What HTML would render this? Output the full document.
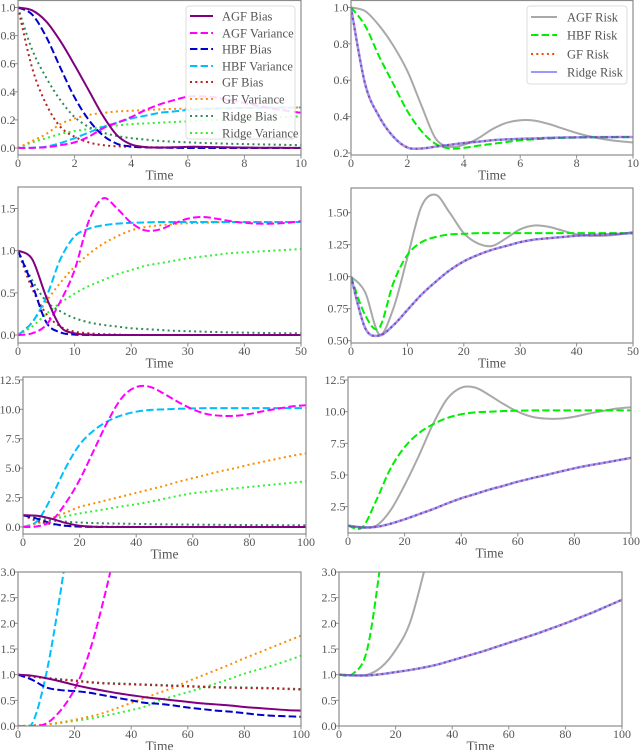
<!DOCTYPE html>
<html><head><meta charset="utf-8"><style>
html,body{margin:0;padding:0;background:#fff;}
svg{display:block;font-family:"Liberation Serif",serif;}
</style></head><body>
<svg id="fig" width="640" height="750" viewBox="0 0 640 750" xmlns="http://www.w3.org/2000/svg"></svg>
<script>
// ---- data ----
const t1 = [0,0.5,1,1.5,2,2.5,3,3.5,4,4.5,5,5.5,6,6.5,7,7.5,8,8.5,9,9.5,10];
const p1AgfBias = [1,0.98,0.9,0.76,0.59,0.41,0.23,0.09,0.025,0.006,0.003,0.005,0.008,0.008,0.006,0.004,0.003,0.002,0.002,0.001,0.001];
const p1AgfVar  = [0,0.001,0.005,0.02,0.04,0.08,0.14,0.18,0.22,0.27,0.31,0.34,0.365,0.367,0.36,0.34,0.32,0.3,0.28,0.265,0.25];
const p1HbfBias = [1,0.95,0.79,0.57,0.36,0.2,0.09,0.03,0.01,0.004,0.002,0.001,0,0,0,0,0,0,0,0,0];
const p1HbfVar  = [0,0.002,0.01,0.035,0.07,0.11,0.15,0.18,0.21,0.23,0.25,0.26,0.27,0.275,0.28,0.283,0.285,0.286,0.287,0.287,0.288];
const p1GfBias  = [1,0.57,0.31,0.15,0.08,0.04,0.02,0.012,0.008,0.006,0.005,0.004,0.003,0.003,0.002,0.002,0.002,0.001,0.001,0.001,0.001];
const p1GfVar   = [0,0.05,0.1,0.17,0.21,0.235,0.25,0.26,0.265,0.27,0.275,0.278,0.28,0.282,0.284,0.285,0.286,0.287,0.287,0.288,0.288];
const p1RidgeBias = [1,0.7,0.5,0.34,0.22,0.15,0.11,0.085,0.07,0.06,0.05,0.045,0.04,0.036,0.033,0.03,0.028,0.026,0.024,0.022,0.02];
const p1RidgeVar  = [0,0.04,0.07,0.1,0.12,0.135,0.15,0.16,0.17,0.175,0.18,0.185,0.19,0.195,0.2,0.205,0.21,0.214,0.218,0.222,0.225];
const p1AgfRisk = [1,0.98,0.9,0.79,0.65,0.46,0.28,0.235,0.245,0.28,0.33,0.365,0.38,0.378,0.36,0.335,0.31,0.29,0.275,0.265,0.258];
const p1HbfRisk = [1,0.9,0.73,0.58,0.43,0.32,0.25,0.225,0.228,0.24,0.25,0.26,0.27,0.275,0.28,0.283,0.285,0.286,0.287,0.287,0.288];
const p1GfRisk  = [1,0.58,0.4,0.29,0.23,0.225,0.235,0.245,0.255,0.262,0.27,0.275,0.278,0.28,0.283,0.285,0.286,0.287,0.287,0.288,0.288];
const p1RidgeRisk = p1GfRisk.slice();

const t2 = [0,2.5,5,7.5,10,12.5,15,17.5,20,22.5,25,27.5,30,32.5,35,37.5,40,42.5,45,47.5,50];
const p2AgfBias = [1,0.9,0.45,0.1,0.02,0.005,0,0,0,0,0,0,0,0,0,0,0,0,0,0,0];
const p2AgfVar  = [0,0.02,0.12,0.4,0.77,1.35,1.62,1.5,1.33,1.24,1.25,1.32,1.38,1.4,1.38,1.35,1.33,1.32,1.32,1.33,1.35];
const p2HbfBias = [1,0.6,0.15,0.03,0.005,0,0,0,0,0,0,0,0,0,0,0,0,0,0,0,0];
const p2HbfVar  = [0,0.15,0.45,0.9,1.17,1.26,1.3,1.32,1.33,1.335,1.34,1.34,1.34,1.34,1.34,1.34,1.34,1.34,1.34,1.34,1.34];
const p2GfBias  = [1,0.55,0.25,0.1,0.04,0.02,0.01,0.005,0,0,0,0,0,0,0,0,0,0,0,0,0];
const p2GfVar   = [0,0.15,0.4,0.62,0.81,0.96,1.08,1.17,1.24,1.28,1.3,1.315,1.325,1.33,1.335,1.335,1.337,1.338,1.34,1.34,1.34];
const p2RidgeBias = [1,0.65,0.4,0.28,0.2,0.15,0.12,0.1,0.08,0.07,0.06,0.05,0.045,0.04,0.035,0.03,0.028,0.025,0.022,0.02,0.02];
const p2RidgeVar  = [0,0.1,0.25,0.38,0.49,0.58,0.65,0.72,0.77,0.82,0.85,0.88,0.91,0.93,0.95,0.97,0.98,0.99,1.0,1.01,1.02];
const p2AgfRisk = [1,0.88,0.55,0.75,1.15,1.55,1.64,1.5,1.34,1.26,1.24,1.3,1.37,1.4,1.39,1.36,1.33,1.32,1.32,1.33,1.35];
const p2HbfRisk = [1,0.7,0.6,0.95,1.17,1.27,1.31,1.33,1.335,1.34,1.34,1.34,1.34,1.34,1.34,1.34,1.34,1.34,1.34,1.34,1.34];
const p2GfRisk  = [1,0.6,0.54,0.62,0.74,0.86,0.96,1.05,1.12,1.17,1.21,1.24,1.27,1.29,1.3,1.31,1.32,1.325,1.33,1.335,1.34];
const p2RidgeRisk = p2GfRisk.slice();

const t3 = [0,5,10,15,20,25,30,35,40,45,50,55,60,65,70,75,80,85,90,95,100];
const p3AgfBias = [1,0.95,0.7,0.35,0.1,0.02,0,0,0,0,0,0,0,0,0,0,0,0,0,0,0];
const p3AgfVar  = [0,0.05,0.5,2,4,6.5,9,11,11.9,11.9,11.3,10.6,10,9.6,9.45,9.45,9.6,9.85,10.05,10.25,10.35];
const p3HbfBias = [1,0.7,0.3,0.1,0.03,0,0,0,0,0,0,0,0,0,0,0,0,0,0,0,0];
const p3HbfVar  = [0,0.5,2.5,5,7,8.2,9,9.5,9.8,9.95,10,10.05,10.08,10.1,10.1,10.1,10.1,10.1,10.1,10.1,10.1];
const p3GfBias  = [1,0.5,0.25,0.1,0.05,0.03,0.02,0.015,0.01,0.01,0.01,0.01,0.01,0.01,0.01,0.01,0.01,0.01,0.01,0.01,0.01];
const p3GfVar   = [0,0.3,0.75,1.2,1.7,2.0,2.3,2.6,2.9,3.2,3.5,3.85,4.15,4.45,4.75,5.0,5.3,5.55,5.8,6.05,6.26];
const p3RidgeBias = [1,0.75,0.55,0.45,0.38,0.33,0.3,0.28,0.26,0.24,0.22,0.21,0.2,0.19,0.18,0.17,0.16,0.155,0.15,0.145,0.14];
const p3RidgeVar  = [0,0.3,0.65,0.9,1.15,1.35,1.55,1.75,1.93,2.15,2.4,2.65,2.87,3.0,3.15,3.28,3.4,3.52,3.64,3.76,3.88];
const p3AgfRisk = [1,0.9,1.0,2.2,4.2,6.5,9,11,11.9,11.9,11.3,10.6,10,9.6,9.45,9.45,9.6,9.85,10.05,10.25,10.35];
const p3HbfRisk = [1,0.85,3,5.5,7.2,8.3,9,9.5,9.8,9.95,10,10.05,10.08,10.1,10.1,10.1,10.1,10.1,10.1,10.1,10.1];
const p3GfRisk  = [1,0.85,0.9,1.15,1.5,1.9,2.3,2.75,3.16,3.5,3.85,4.15,4.47,4.75,5.0,5.27,5.53,5.75,5.95,6.15,6.35];
const p3RidgeRisk = p3GfRisk.slice();

const t4 = [0,5,10,15,20,25,30,35,40,45,50,55,60,65,70,75,80,85,90,95,100];
const p4AgfBias = [1,0.98,0.93,0.87,0.8,0.74,0.69,0.64,0.6,0.56,0.53,0.5,0.47,0.44,0.42,0.4,0.37,0.35,0.33,0.31,0.3];
const p4AgfVar  = [0,0,0.05,0.3,0.72,1.4,2.4,3.6,5,6.5,8,9.5,11,12.5,14,15.5,17,18.5,20,21.5,23];
const p4HbfBias = [1,0.9,0.75,0.7,0.68,0.65,0.6,0.55,0.5,0.45,0.43,0.4,0.36,0.33,0.3,0.28,0.25,0.22,0.2,0.19,0.18];
const p4HbfVar  = [0,0.05,1.02,2.6,4.5,6.5,8.5,10.5,12.5,14.5,16.5,18.5,20.5,22.5,24.5,26.5,28.5,30.5,32.5,34.5,36.5];
const p4GfBias  = [1,0.96,0.93,0.9,0.88,0.85,0.83,0.82,0.81,0.8,0.79,0.78,0.77,0.76,0.75,0.745,0.74,0.735,0.73,0.72,0.71];
const p4GfVar   = [0,0.01,0.03,0.07,0.12,0.18,0.25,0.35,0.45,0.55,0.65,0.75,0.87,0.98,1.09,1.2,1.32,1.43,1.54,1.65,1.76];
const p4RidgeBias = [1,0.97,0.94,0.91,0.89,0.86,0.84,0.83,0.82,0.81,0.8,0.79,0.78,0.77,0.76,0.755,0.75,0.745,0.74,0.73,0.72];
const p4RidgeVar  = [0,0.01,0.03,0.06,0.1,0.14,0.19,0.25,0.31,0.38,0.5,0.58,0.66,0.74,0.83,0.92,1.02,1.1,1.18,1.27,1.37];
const p4AgfRisk = [1,0.99,1.0,1.15,1.48,2.0,3.0,4.2,5.5,7,8.5,10,11.5,13,14.5,16,17.5,19,20.5,22,23.5];
const p4HbfRisk = [1,1.02,1.5,3.3,5.5,8,10.5,13,15.5,18,20.5,23,25.5,28,30.5,33,35.5,38,40.5,43,45.5];
const p4GfRisk  = [1,0.985,0.985,1.01,1.05,1.09,1.14,1.2,1.28,1.36,1.44,1.53,1.62,1.71,1.8,1.9,2.0,2.11,2.22,2.34,2.46];
const p4RidgeRisk = p4GfRisk.slice();

const ticksX10 = [0,2,4,6,8,10];
const ticksX50 = [0,10,20,30,40,50];
const ticksX100 = [0,20,40,60,80,100];
const ticksY1L = ["0.0","0.2","0.4","0.6","0.8","1.0"];
const ticksY1R = ["0.2","0.4","0.6","0.8","1.0"];
const ticksY2L = ["0.0","0.5","1.0","1.5"];
const ticksY2R = ["0.50","0.75","1.00","1.25","1.50"];
const ticksY3L = ["0.0","2.5","5.0","7.5","10.0","12.5"];
const ticksY3R = ["2.5","5.0","7.5","10.0","12.5"];
const ticksY4 = ["0.0","0.5","1.0","1.5","2.0","2.5","3.0"];

// ---- styles ----
const ST = {
  agfBias:{c:"#800080",d:null,o:1},
  agfVar:{c:"#ff00ff",d:"7.4,3.2",o:1},
  hbfBias:{c:"#0000cd",d:"7.4,3.2",o:1},
  hbfVar:{c:"#00bfff",d:"7.4,3.2",o:1},
  gfBias:{c:"#b22222",d:"2,3.3",o:1},
  gfVar:{c:"#ff8c00",d:"2,3.3",o:1},
  ridgeBias:{c:"#2e8b57",d:"2,3.3",o:1},
  ridgeVar:{c:"#33ee33",d:"2,3.3",o:1},
  agfRisk:{c:"#a9a9a9",d:null,o:1},
  hbfRisk:{c:"#00ee00",d:"7.4,3.2",o:1},
  gfRisk:{c:"#ff4500",d:"2,3.3",o:1},
  ridgeRisk:{c:"#4444ff",d:null,o:0.55}
};
const NS="http://www.w3.org/2000/svg";
const svg=document.getElementById('fig');
function el(tag,attrs,parent){const e=document.createElementNS(NS,tag);for(const k in attrs)e.setAttribute(k,attrs[k]);(parent||svg).appendChild(e);return e;}

function smoothPath(pts){
  let d="M"+pts[0][0].toFixed(2)+","+pts[0][1].toFixed(2);
  for(let i=0;i<pts.length-1;i++){
    const p0=pts[Math.max(0,i-1)],p1=pts[i],p2=pts[i+1],p3=pts[Math.min(pts.length-1,i+2)];
    const c1=[p1[0]+(p2[0]-p0[0])/6,p1[1]+(p2[1]-p0[1])/6];
    const c2=[p2[0]-(p3[0]-p1[0])/6,p2[1]-(p3[1]-p1[1])/6];
    d+="C"+c1[0].toFixed(2)+","+c1[1].toFixed(2)+" "+c2[0].toFixed(2)+","+c2[1].toFixed(2)+" "+p2[0].toFixed(2)+","+p2[1].toFixed(2);
  }
  return d;
}
let clipId=0;
function panel(cfg){
  const {name,x0,x1,y0,y1,xmin,xmax,ymin,ymax,xt,yt,ts,series}=cfg;
  const g=el('g',{});
  
  
  const sx=v=>x0+(v-xmin)/(xmax-xmin)*(x1-x0);
  const sy=v=>y1-(v-ymin)/(ymax-ymin)*(y1-y0);
  const cid="clip"+(clipId++);
  const cp=el('clipPath',{id:cid},g);
  el('rect',{x:x0,y:y0,width:x1-x0,height:y1-y0},cp);
  const sg=el('g',{'clip-path':'url(#'+cid+')'},g);
  series.forEach(s=>{
    const st=ST[s.k];
    const pts=ts.map((t,i)=>[sx(t),sy(s.v[i])]);
    const p=el('path',{d:smoothPath(pts),fill:'none',stroke:st.c,'stroke-width':s.k==='ridgeRisk'?2.5:2,'stroke-opacity':st.o},sg);
    if(st.d)p.setAttribute('stroke-dasharray',st.d);
    
    
  });
  const fr=el('rect',{x:x0,y:y0,width:x1-x0,height:y1-y0,fill:'none',stroke:'#8c8c8c','stroke-width':1.2},g);
  
  
  xt.forEach(v=>{
    const x=sx(v);
    el('line',{x1:x,x2:x,y1:y1,y2:y1+3.5,stroke:'#8c8c8c','stroke-width':1},g);
    const tx=el('text',{x:x,y:y1+12,'text-anchor':'middle','font-size':12,fill:'#555'},g);
    tx.textContent=String(v);
    
    
  });
  yt.forEach(lbl=>{
    const y=sy(parseFloat(lbl));
    el('line',{x1:x0-3.5,x2:x0,y1:y,y2:y,stroke:'#8c8c8c','stroke-width':1},g);
    const tx=el('text',{x:x0-2.5,y:y+4,'text-anchor':'end','font-size':12,fill:'#555'},g);
    tx.textContent=lbl;
    
    
  });
  const xl=el('text',{x:(x0+x1)/2,y:y1+24.5,'text-anchor':'middle','font-size':13.5,fill:'#555'},g);
  xl.textContent="Time";
  
  
}
const leftSeries=(a)=>[
 {k:'ridgeVar',v:a[7]},{k:'ridgeBias',v:a[6]},{k:'gfVar',v:a[5]},{k:'gfBias',v:a[4]},
 {k:'hbfVar',v:a[3]},{k:'hbfBias',v:a[2]},{k:'agfVar',v:a[1]},{k:'agfBias',v:a[0]}];
const rightSeries=(a)=>[{k:'agfRisk',v:a[0]},{k:'hbfRisk',v:a[1]},{k:'gfRisk',v:a[2]},{k:'ridgeRisk',v:a[3]}];

panel({name:'panel-bias-variance-t10',x0:18,x1:301,y0:0.5,y1:155,xmin:0,xmax:10,ymin:-0.05,ymax:1.05,xt:ticksX10,yt:ticksY1L,ts:t1,
  series:leftSeries([p1AgfBias,p1AgfVar,p1HbfBias,p1HbfVar,p1GfBias,p1GfVar,p1RidgeBias,p1RidgeVar])});
panel({name:'panel-risk-t10',x0:351,x1:633,y0:0.5,y1:155,xmin:0,xmax:10,ymin:0.189,ymax:1.038,xt:ticksX10,yt:ticksY1R,ts:t1,
  series:rightSeries([p1AgfRisk,p1HbfRisk,p1GfRisk,p1RidgeRisk])});
panel({name:'panel-bias-variance-t50',x0:18,x1:301,y0:187,y1:343,xmin:0,xmax:50,ymin:-0.095,ymax:1.755,xt:ticksX50,yt:ticksY2L,ts:t2,
  series:leftSeries([p2AgfBias,p2AgfVar,p2HbfBias,p2HbfVar,p2GfBias,p2GfVar,p2RidgeBias,p2RidgeVar])});
panel({name:'panel-risk-t50',x0:351,x1:633,y0:188,y1:343,xmin:0,xmax:50,ymin:0.482,ymax:1.693,xt:ticksX50,yt:ticksY2R,ts:t2,
  series:rightSeries([p2AgfRisk,p2HbfRisk,p2GfRisk,p2RidgeRisk])});
panel({name:'panel-bias-variance-t100',x0:23,x1:306,y0:377,y1:534,xmin:0,xmax:100,ymin:-0.6,ymax:12.75,xt:ticksX100,yt:ticksY3L,ts:t3,
  series:leftSeries([p3AgfBias,p3AgfVar,p3HbfBias,p3HbfVar,p3GfBias,p3GfVar,p3RidgeBias,p3RidgeVar])});
panel({name:'panel-risk-t100',x0:348,x1:631,y0:377,y1:533,xmin:0,xmax:100,ymin:0.42,ymax:12.74,xt:ticksX100,yt:ticksY3R,ts:t3,
  series:rightSeries([p3AgfRisk,p3HbfRisk,p3GfRisk,p3RidgeRisk])});
panel({name:'panel-bias-variance-zoom',x0:18,x1:301,y0:572,y1:726,xmin:0,xmax:100,ymin:0,ymax:3,xt:ticksX100,yt:ticksY4,ts:t4,
  series:leftSeries([p4AgfBias,p4AgfVar,p4HbfBias,p4HbfVar,p4GfBias,p4GfVar,p4RidgeBias,p4RidgeVar])});
panel({name:'panel-risk-zoom',x0:339,x1:622,y0:572,y1:726,xmin:0,xmax:100,ymin:0,ymax:3,xt:ticksX100,yt:ticksY4,ts:t4,
  series:rightSeries([p4AgfRisk,p4HbfRisk,p4GfRisk,p4RidgeRisk])});

// ---- legends ----
function legend(name,x,y,w,h,entries,lx0,lx1,tx,ys){
  const g=el('g',{});
  
  
  el('rect',{x:x,y:y,width:w,height:h,rx:3,fill:'#fff','fill-opacity':0.85,stroke:'#ddd','stroke-width':1},g);
  entries.forEach((e,i)=>{
    const st=ST[e[0]];
    const ln=el('line',{x1:lx0,x2:lx1,y1:ys[i],y2:ys[i],stroke:st.c,'stroke-width':2,'stroke-opacity':st.o},g);
    if(st.d)ln.setAttribute('stroke-dasharray',st.d);
    const t=el('text',{x:tx,y:ys[i]+4.5,'font-size':12.5,fill:'#555'},g);
    t.textContent=e[1];
    
    
  });
}
legend('legend-bias-variance',186,6,109,133,
 [['agfBias','AGF Bias'],['agfVar','AGF Variance'],['hbfBias','HBF Bias'],['hbfVar','HBF Variance'],['gfBias','GF Bias'],['gfVar','GF Variance'],['ridgeBias','Ridge Bias'],['ridgeVar','Ridge Variance']],
 190,213,222,[16,33,49,66,82,99,116,133]);
legend('legend-risk',527,6,100,78,
 [['agfRisk','AGF Risk'],['hbfRisk','HBF Risk'],['gfRisk','GF Risk'],['ridgeRisk','Ridge Risk']],
 531,557,567,[17,35,54,72]);
</script>
</body></html>
